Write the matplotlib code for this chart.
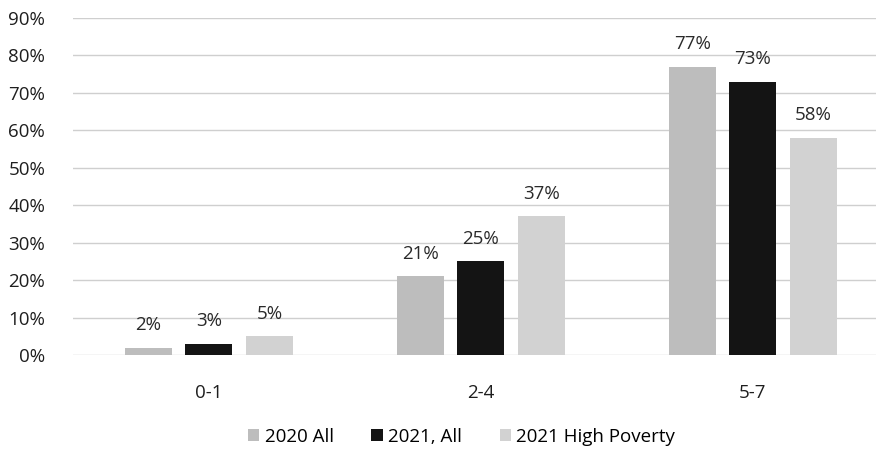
import matplotlib as mpl
mpl.use("Agg")
import matplotlib.pyplot as plt
import numpy as np

# Share of students by days of in-person instruction
CATEGORIES = ["0-1", "2-4", "5-7"]
SERIES = ["2020 All", "2021, All", "2021 High Poverty"]
VALUES_2020_ALL = [2, 21, 77]
VALUES_2021_ALL = [3, 25, 73]
VALUES_2021_HP = [5, 37, 58]
Y_TICKS = [0, 10, 20, 30, 40, 50, 60, 70, 80, 90]

COLORS = ["#bdbdbd", "#141414", "#d2d2d2"]
FONT_SIZE = 13.5

plt.rcParams["font.family"] = ["Open Sans", "DejaVu Sans"]


def main():
    fig = plt.figure(figsize=(8.76, 4.5), dpi=100)
    ax = fig.add_axes([0.0833, 0.211, 0.9315, 0.749])

    x = np.arange(len(CATEGORIES))
    width = 0.173
    pitch = 0.222
    all_values = [VALUES_2020_ALL, VALUES_2021_ALL, VALUES_2021_HP]
    for i, (name, vals, color) in enumerate(zip(SERIES, all_values, COLORS)):
        pos = x + (i - 1) * pitch
        ax.bar(pos, vals, width=width, color=color, label=name, zorder=3)
        for px, v in zip(pos, vals):
            ax.text(px, v + 3.6, f"{v}%", ha="center", va="bottom",
                    fontsize=FONT_SIZE, color="#2a2a2a", zorder=4)

    ax.set_xlim(-0.5, 2.5)
    ax.set_ylim(0, 90)
    ax.set_yticks(Y_TICKS)
    ax.set_yticklabels([f"{t}%" for t in Y_TICKS], fontsize=FONT_SIZE, color="#1e1e1e")
    ax.set_xticks(x)
    ax.set_xticklabels(CATEGORIES, fontsize=FONT_SIZE, color="#1e1e1e")
    ax.tick_params(axis="both", length=0)
    ax.tick_params(axis="x", pad=21)
    ax.tick_params(axis="y", pad=20)
    ax.yaxis.grid(True, color="#cfcfcf", linewidth=1.0, zorder=0)
    for spine in ax.spines.values():
        spine.set_visible(False)

    fig.legend(loc="center", bbox_to_anchor=(0.527, 0.03), ncol=3, frameon=False,
               fontsize=FONT_SIZE, handlelength=0.6, handleheight=0.6, handletextpad=0.3,
               columnspacing=2.0)

    fig.savefig("out.png", dpi=100)
    plt.close(fig)


if __name__ == "__main__":
    main()
